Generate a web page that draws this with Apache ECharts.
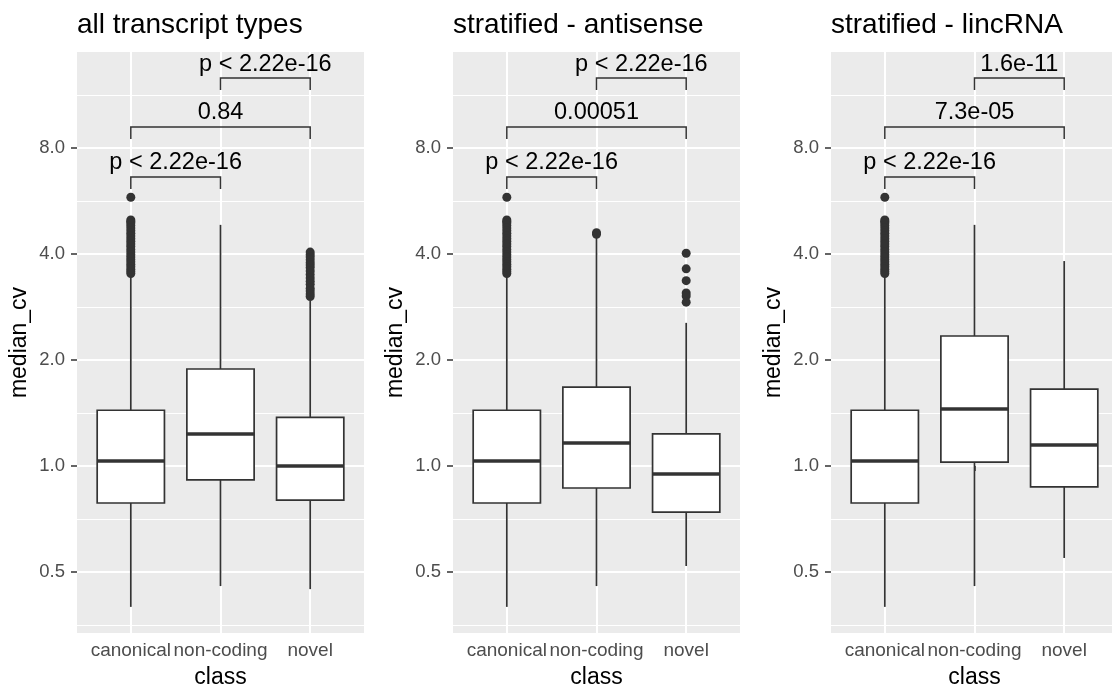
<!DOCTYPE html>
<html>
<head>
<meta charset="utf-8">
<script src="https://cdn.jsdelivr.net/npm/echarts@6/dist/echarts.min.js"></script>
<style>
  html, body { margin: 0; padding: 0; background: #fff; }
  #chart { width: 1112px; height: 688px; }
</style>
</head>
<body>
<div id="chart"></div>
<script>
// Categories and panel titles
const classes = ['canonical', 'non-coding', 'novel'];
const panelTitles = ['all transcript types', 'stratified - antisense', 'stratified - lincRNA'];

// y tick values (log2 scale) and minor gridline values
const yTickValues = [0.5, 1, 2, 4, 8];
const yMinorValues = [0.354, 0.707, 1.414, 2.828, 5.657, 11.314];
const yRange = [0.3355, 14.99];

// Box statistics per class: [lower whisker, Q1, median, Q3, upper whisker]
const allTypesBoxes = [
  [0.398, 0.785, 1.033, 1.44, 3.48],
  [0.456, 0.913, 1.233, 1.886, 4.84],
  [0.447, 0.80, 1.0, 1.375, 2.95]
];
const antisenseBoxes = [
  [0.398, 0.785, 1.033, 1.44, 3.48],
  [0.456, 0.866, 1.162, 1.676, 4.45],
  [0.52, 0.74, 0.949, 1.233, 2.55]
];
const lincRNABoxes = [
  [0.398, 0.785, 1.033, 1.44, 3.48],
  [0.456, 1.026, 1.452, 2.34, 4.84],
  [0.548, 0.872, 1.147, 1.654, 3.82]
];

// Outliers per class
const canonicalOutliers = [5.8, 5.0, 4.95, 4.9, 4.82, 4.74, 4.66, 4.58, 4.5, 4.42, 4.35, 4.27, 4.2, 4.12,
  4.05, 3.98, 3.92, 3.86, 3.8, 3.74, 3.68, 3.62, 3.57, 3.52];
const allTypesOutliers = [
  canonicalOutliers,
  [],
  [4.05, 3.98, 3.92, 3.85, 3.78, 3.72, 3.66, 3.58, 3.5, 3.42, 3.35, 3.28, 3.2, 3.14, 3.08, 3.03]
];
const antisenseOutliers = [
  canonicalOutliers,
  [4.6, 4.55],
  [4.02, 3.63, 3.36, 3.1, 3.04, 2.92]
];
const lincRNAOutliers = [
  canonicalOutliers,
  [],
  []
];

// Pairwise comparisons: class pairs (1-based), bracket heights, p-value labels
const bracketPairs = [[2, 3], [1, 3], [1, 2]];
const bracketHeights = [12.64, 9.18, 6.62];
const allTypesPValues = ['p < 2.22e-16', '0.84', 'p < 2.22e-16'];
const antisensePValues = ['p < 2.22e-16', '0.00051', 'p < 2.22e-16'];
const lincRNAPValues = ['1.6e-11', '7.3e-05', 'p < 2.22e-16'];

const panelBoxes = [allTypesBoxes, antisenseBoxes, lincRNABoxes];
const panelOutliers = [allTypesOutliers, antisenseOutliers, lincRNAOutliers];
const panelPValues = [allTypesPValues, antisensePValues, lincRNAPValues];

const FONT = 'Liberation Sans, Arial, sans-serif';
const INK = '#333333';
const panelLefts = [77, 453, 831];
const panelWidth = 287;
const panelTop = 52;
const panelHeight = 581;
const log2 = Math.log2;

const option = {
  animation: false,
  backgroundColor: '#ffffff',
  title: [],
  grid: [],
  xAxis: [],
  yAxis: [],
  series: []
};

panelTitles.forEach((t, i) => {
  option.title.push({
    text: t, left: panelLefts[i], top: 11, padding: 0,
    textStyle: { fontSize: 28, fontWeight: 'normal', color: '#000', fontFamily: FONT }
  });
  option.grid.push({
    left: panelLefts[i], top: panelTop, width: panelWidth, height: panelHeight,
    show: true, backgroundColor: '#EBEBEB', borderWidth: 0,
    containLabel: false, outerBoundsMode: 'none'
  });
  option.xAxis.push({
    type: 'value', gridIndex: i, min: 0.4, max: 3.6,
    name: 'class', nameLocation: 'middle', nameGap: 33,
    nameTextStyle: { fontSize: 23, color: '#000', fontFamily: FONT, verticalAlign: 'top' },
    axisLine: { show: false },
    axisTick: { show: true, length: 5, customValues: [1, 2, 3], lineStyle: { color: INK, width: 1.5 } },
    axisLabel: {
      customValues: [1, 2, 3], margin: 8, fontSize: 19, color: '#4D4D4D', fontFamily: FONT,
      hideOverlap: false,
      formatter: v => classes[Math.round(v) - 1]
    },
    splitLine: { show: true, lineStyle: { color: '#ffffff', width: 2 } }
  });
  // major y axis (labels, ticks, major gridlines)
  option.yAxis.push({
    type: 'value', gridIndex: i, min: log2(yRange[0]), max: log2(yRange[1]),
    name: 'median_cv', nameLocation: 'middle', nameGap: 46, nameRotate: 90,
    nameTextStyle: { fontSize: 23, color: '#000', fontFamily: FONT },
    axisLine: { show: false },
    axisTick: { show: true, length: 6, customValues: yTickValues.map(log2), lineStyle: { color: INK, width: 1.5 } },
    axisLabel: {
      customValues: yTickValues.map(log2), margin: 12, fontSize: 18.5, color: '#4D4D4D', fontFamily: FONT,
      formatter: v => Math.pow(2, v).toFixed(1)
    },
    splitLine: { show: true, lineStyle: { color: '#ffffff', width: 2 } }
  });
  // minor gridlines
  option.yAxis.push({
    type: 'value', gridIndex: i, min: log2(yRange[0]), max: log2(yRange[1]),
    axisLine: { show: false },
    axisTick: { show: false, customValues: yMinorValues.map(log2) },
    axisLabel: { show: false, customValues: yMinorValues.map(log2) },
    splitLine: { show: true, lineStyle: { color: '#ffffff', width: 1 } }
  });
});

panelBoxes.forEach((boxes, i) => {
  const yIdx = i * 2;
  option.series.push({
    type: 'custom', xAxisIndex: i, yAxisIndex: yIdx, z: 3,
    data: boxes.map((b, k) => [k + 1].concat(b.map(log2))),
    renderItem: function (params, api) {
      const x = api.value(0);
      const half = api.size([0.75, 0])[0] / 2;
      const c = api.coord([x, api.value(3)]);
      const pMin = api.coord([x, api.value(1)]);
      const pQ1 = api.coord([x, api.value(2)]);
      const pQ3 = api.coord([x, api.value(4)]);
      const pMax = api.coord([x, api.value(5)]);
      const line = { stroke: INK, lineWidth: 1.7 };
      return {
        type: 'group',
        children: [
          { type: 'line', shape: { x1: c[0], y1: pMax[1], x2: c[0], y2: pQ3[1] }, style: line },
          { type: 'line', shape: { x1: c[0], y1: pQ1[1], x2: c[0], y2: pMin[1] }, style: line },
          { type: 'rect', shape: { x: c[0] - half, y: pQ3[1], width: half * 2, height: pQ1[1] - pQ3[1] },
            style: { fill: '#ffffff', stroke: INK, lineWidth: 1.7 } },
          { type: 'line', shape: { x1: c[0] - half, y1: c[1], x2: c[0] + half, y2: c[1] },
            style: { stroke: INK, lineWidth: 3.4 } }
        ]
      };
    }
  });
  const pts = [];
  panelOutliers[i].forEach((vals, k) => vals.forEach(v => pts.push([k + 1, log2(v)])));
  option.series.push({
    type: 'scatter', xAxisIndex: i, yAxisIndex: yIdx, z: 4,
    symbol: 'circle', symbolSize: 9,
    itemStyle: { color: INK, opacity: 1 },
    data: pts
  });
  const labels = panelPValues[i];
  option.series.push({
    type: 'custom', xAxisIndex: i, yAxisIndex: yIdx, z: 5,
    data: bracketPairs.map((p, k) => [p[0], p[1], log2(bracketHeights[k])]),
    renderItem: function (params, api) {
      const a = api.coord([api.value(0), api.value(2)]);
      const b = api.coord([api.value(1), api.value(2)]);
      const drop = 12;
      return {
        type: 'group',
        children: [
          { type: 'polyline',
            shape: { points: [[a[0], a[1] + drop], [a[0], a[1]], [b[0], b[1]], [b[0], b[1] + drop]] },
            style: { stroke: INK, lineWidth: 1.5, fill: null } },
          { type: 'text',
            style: { text: labels[params.dataIndex], x: (a[0] + b[0]) / 2, y: a[1] - 2,
              align: 'center', verticalAlign: 'bottom',
              fill: '#000', fontSize: 23.5, fontFamily: FONT } }
        ]
      };
    }
  });
});

const chart = echarts.init(document.getElementById('chart'), null, { renderer: 'canvas' });
chart.setOption(option);
</script>
</body>
</html>
